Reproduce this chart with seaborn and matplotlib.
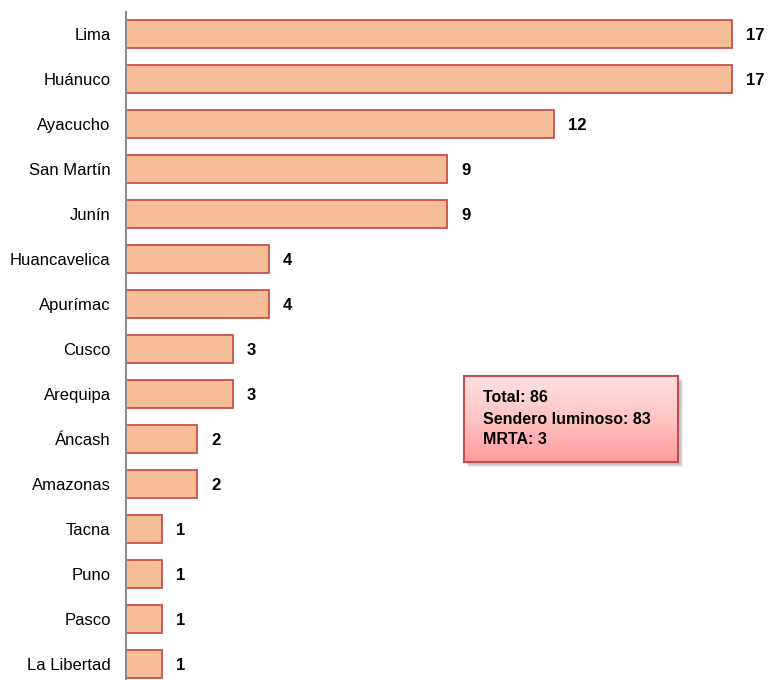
import numpy as np
import pandas as pd
import seaborn as sns
import matplotlib.pyplot as plt
from matplotlib.patches import Rectangle

regions = ["Lima", "Huánuco", "Ayacucho", "San Martín", "Junín", "Huancavelica",
           "Apurímac", "Cusco", "Arequipa", "Áncash", "Amazonas", "Tacna",
           "Puno", "Pasco", "La Libertad"]
counts = [17, 17, 12, 9, 9, 4, 4, 3, 3, 2, 2, 1, 1, 1, 1]
summary_lines = ["Total: 86", "Sendero luminoso: 83", "MRTA: 3"]

df = pd.DataFrame({"region": regions, "count": counts})

sns.set_theme(style="white")
plt.rcParams['font.family'] = ['Liberation Sans', 'DejaVu Sans']

fig = plt.figure(figsize=(7.68, 6.8), dpi=100)
ax = fig.add_axes([126 / 768, 0, 1 - 126 / 768, 1 - 12 / 680])

sns.barplot(data=df, x="count", y="region", orient="h", width=0.64,
            color="#F5BE96", edgecolor="#C9504C", linewidth=1.3,
            saturation=1, ax=ax)

# value labels to the right of each bar
for i, v in enumerate(counts):
    ax.annotate(str(v), (v, i), xytext=(10, -1), textcoords="offset points",
                va="center", ha="left", fontsize=12, fontweight="bold", color="black")

ax.set_xlim(0, 18)
ax.set_ylim(14.356, -0.489)
ax.set_xlabel("")
ax.set_ylabel("")
ax.set_xticks([])
ax.tick_params(axis="y", length=0, labelsize=12, pad=11, colors="black")
for s in ["top", "right", "bottom"]:
    ax.spines[s].set_visible(False)
ax.spines["left"].set_color("#8C8C8C")
ax.spines["left"].set_linewidth(1.5)

# summary box with shadow and vertical gradient
bx, by, bw, bh = 464 / 768, 1 - 462 / 680, 214 / 768, 86 / 680
for k, a in enumerate([0.10, 0.12, 0.15]):
    off = (5 - k) / 768
    fig.patches.append(Rectangle((bx + off, by - off * 768 / 680), bw, bh,
                                 transform=fig.transFigure, facecolor="#555555",
                                 alpha=a, edgecolor="none", zorder=1))
box_ax = fig.add_axes([bx, by, bw, bh], zorder=3)
grad = np.linspace(0, 1, 100).reshape(-1, 1)
cmap = sns.blend_palette(["#FFE3E3", "#FFC4C4", "#FF9C9C"], as_cmap=True)
box_ax.imshow(grad, aspect="auto", cmap=cmap, extent=[0, 1, 0, 1], origin="upper")
box_ax.set_xticks([])
box_ax.set_yticks([])
for s in box_ax.spines.values():
    s.set_color("#C0504D")
    s.set_linewidth(1.5)
box_ax.text(0.09, 0.5, "\n".join(summary_lines), transform=box_ax.transAxes,
            va="center", ha="left", fontsize=11.5, fontweight="bold",
            linespacing=1.5, color="black")

fig.savefig("out.png", dpi=100)
